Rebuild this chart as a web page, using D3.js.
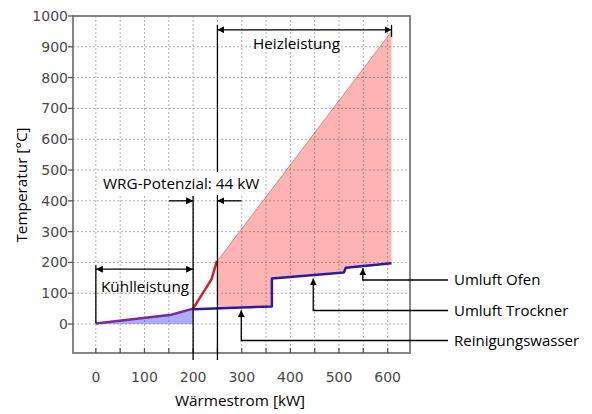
<!DOCTYPE html>
<html><head><meta charset="utf-8">
<script src="https://cdn.jsdelivr.net/npm/d3@7"></script>
<style>body{margin:0;background:#fff} svg{display:block}</style>
</head><body><svg id="c" width="592" height="414"></svg>
<script>
// ---- data ----
const xTicks = [0, 100, 200, 300, 400, 500, 600];
const xGrid = [0, 50, 100, 150, 200, 250, 300, 350, 400, 450, 500, 550, 600];
const yTicks = [0, 100, 200, 300, 400, 500, 600, 700, 800, 900, 1000];
const coolCurve = [[0, 2], [155, 30], [200, 50]];               // Kühlleistung (purple)
const hotCurve = [[200, 50], [238, 146], [249, 205]];            // red segment
const heatLine = [[250, 205], [608, 950]];                       // hot composite
const coldLine = [[200, 48], [362, 57], [362, 148], [510, 167], [514, 183], [608, 197]];
const heatBottomStart = [250, 51];
const calloutLabels = ["Umluft Ofen", "Umluft Trockner", "Reinigungswasser"];
const calloutX = [549, 447, 299];
const calloutTipY = [181, 148, 45];
const wrgLabel = "WRG-Potenzial: 44 kW";
const wrgX = [200, 250];
const wrgArrowY = 400;
const heatArrowY = 955;
const coolArrowY = 178;

// ---- layout ----
const svg = d3.select("#c");
const x = d3.scaleLinear().domain([-47, 646]).range([73, 410]);
const y = d3.scaleLinear().domain([-94, 1000]).range([353, 16]);
const X0 = x.range()[0], X1 = x.range()[1], Y0 = y.range()[0], Y1 = y.range()[1];

const defs = svg.append("defs");
defs.append("marker").attr("id", "ah").attr("viewBox", "0 0 8 8")
  .attr("refX", 8).attr("refY", 4).attr("markerWidth", 7).attr("markerHeight", 7)
  .attr("markerUnits", "userSpaceOnUse").attr("orient", "auto-start-reverse")
  .append("path").attr("d", "M0,0L8,4L0,8Z").attr("fill", "#000");

// grid
const g = svg.append("g");
g.selectAll(".vg").data(xGrid).join("line")
  .attr("x1", d => x(d)).attr("x2", d => x(d)).attr("y1", Y1).attr("y2", Y0)
  .attr("stroke", "#b0b0b0").attr("stroke-width", 1).attr("stroke-dasharray", "2,2");
g.selectAll(".hg").data(yTicks).join("line")
  .attr("x1", X0).attr("x2", X1).attr("y1", d => y(d)).attr("y2", d => y(d))
  .attr("stroke", "#b0b0b0").attr("stroke-width", 1).attr("stroke-dasharray", "2,2");

// fills
const line = d3.line().x(d => x(d[0])).y(d => y(d[1]));
const coolFill = coolCurve.concat([[coolCurve[coolCurve.length - 1][0], 0], [coolCurve[0][0], 0]]);
svg.append("path").attr("d", line(coolFill) + "Z").attr("fill", "rgba(60,60,255,0.42)");

const coldAfter = coldLine.filter(d => d[0] > heatBottomStart[0]);
const heatFill = heatLine.concat(coldAfter.slice().reverse(), [heatBottomStart]);
svg.append("path").attr("d", line(heatFill) + "Z").attr("fill", "rgba(255,40,40,0.35)");
svg.append("path").attr("d", line(heatLine)).attr("fill", "none")
  .attr("stroke", "rgba(190,90,90,0.6)").attr("stroke-width", 1);

// curves
svg.append("path").attr("d", line(coldLine)).attr("fill", "none")
  .attr("stroke", "#2a1aa8").attr("stroke-width", 2.5).attr("stroke-linejoin", "round");
svg.append("path").attr("d", line(hotCurve)).attr("fill", "none")
  .attr("stroke", "#d42020").attr("stroke-width", 2.5).attr("stroke-linejoin", "round");
svg.append("path").attr("d", line(coolCurve)).attr("fill", "none")
  .attr("stroke", "#7a2a9a").attr("stroke-width", 2.5).attr("stroke-linejoin", "round");

// frame and ticks
svg.append("rect").attr("x", X0).attr("y", Y1).attr("width", X1 - X0).attr("height", Y0 - Y1)
  .attr("fill", "none").attr("stroke", "#7a7a7a").attr("stroke-width", 1.8);
svg.selectAll(".bt").data(xGrid).join("line")
  .attr("x1", d => x(d)).attr("x2", d => x(d)).attr("y1", Y0).attr("y2", Y0 - 5)
  .attr("stroke", "#555").attr("stroke-width", 1.3);
svg.selectAll(".lt").data(yTicks).join("line")
  .attr("x1", X0 - 5).attr("x2", X0).attr("y1", d => y(d)).attr("y2", d => y(d))
  .attr("stroke", "#555").attr("stroke-width", 1.3);

const tickFont = "DejaVu Sans, sans-serif";
svg.selectAll(".yl").data(yTicks).join("text")
  .attr("x", X0 - 5).attr("y", d => y(d) + 5).attr("text-anchor", "end")
  .attr("font-family", tickFont).attr("font-size", 14).attr("fill", "#4a4a4a").text(d => d);
svg.selectAll(".xl").data(xTicks).join("text")
  .attr("x", d => x(d)).attr("y", 382).attr("text-anchor", "middle")
  .attr("font-family", tickFont).attr("font-size", 14).attr("fill", "#4a4a4a").text(d => d);

const annFont = "Open Sans, sans-serif";
const fs = 15.3;
svg.append("text").attr("x", 240).attr("y", 406).attr("text-anchor", "middle")
  .attr("font-family", annFont).attr("font-size", fs).attr("fill", "#000").text("Wärmestrom [kW]");
svg.append("text").attr("transform", "translate(27,185) rotate(-90)").attr("text-anchor", "middle")
  .attr("font-family", annFont).attr("font-size", fs).attr("fill", "#000").text("Temperatur [°C]");

// annotations
const A = svg.append("g").attr("stroke", "#000").attr("stroke-width", 1.3).attr("fill", "none");
A.append("line").attr("x1", x(wrgX[0])).attr("x2", x(wrgX[0])).attr("y1", 196).attr("y2", 360);
A.append("line").attr("x1", x(wrgX[1])).attr("x2", x(wrgX[1])).attr("y1", 25).attr("y2", 360);
// Heizleistung arrow
A.append("line").attr("x1", x(wrgX[1])).attr("x2", x(heatLine[1][0]))
  .attr("y1", y(heatArrowY)).attr("y2", y(heatArrowY))
  .attr("marker-start", "url(#ah)").attr("marker-end", "url(#ah)");
A.append("line").attr("x1", x(heatLine[1][0])).attr("x2", x(heatLine[1][0]))
  .attr("y1", y(heatArrowY) - 5).attr("y2", y(heatArrowY) + 7);
// WRG arrows
A.append("line").attr("x1", x(wrgX[0]) - 24).attr("x2", x(wrgX[0]))
  .attr("y1", y(wrgArrowY)).attr("y2", y(wrgArrowY)).attr("marker-end", "url(#ah)");
A.append("line").attr("x1", x(wrgX[1]) + 24).attr("x2", x(wrgX[1]))
  .attr("y1", y(wrgArrowY)).attr("y2", y(wrgArrowY)).attr("marker-end", "url(#ah)");
// Kühlleistung arrow
A.append("line").attr("x1", x(coolCurve[0][0])).attr("x2", x(wrgX[0]))
  .attr("y1", y(coolArrowY)).attr("y2", y(coolArrowY))
  .attr("marker-start", "url(#ah)").attr("marker-end", "url(#ah)");
A.append("line").attr("x1", x(coolCurve[0][0])).attr("x2", x(coolCurve[0][0]))
  .attr("y1", y(coolArrowY) - 4).attr("y2", y(coolCurve[0][1]));

// WRG label with white box
svg.append("rect").attr("x", 101).attr("y", 172).attr("width", 164).attr("height", 23).attr("fill", "#fff");
svg.append("text").attr("x", 103).attr("y", 189).attr("font-family", annFont).attr("font-size", fs)
  .attr("fill", "#000").text(wrgLabel);
svg.append("text").attr("x", 253).attr("y", 49).attr("font-family", annFont).attr("font-size", fs)
  .attr("fill", "#000").text("Heizleistung");
svg.append("text").attr("x", 101).attr("y", 292).attr("font-family", annFont).attr("font-size", fs)
  .attr("fill", "#000").text("Kühlleistung");

// callouts
const calloutY = [280, 310.5, 340.5];
calloutLabels.forEach((lab, i) => {
  A.append("path")
    .attr("d", `M448,${calloutY[i]}H${x(calloutX[i])}V${y(calloutTipY[i])}`)
    .attr("marker-end", "url(#ah)");
  svg.append("text").attr("x", 454).attr("y", calloutY[i] + 5).attr("font-family", annFont)
    .attr("font-size", 15).attr("fill", "#000").text(lab);
});
</script></body></html>
